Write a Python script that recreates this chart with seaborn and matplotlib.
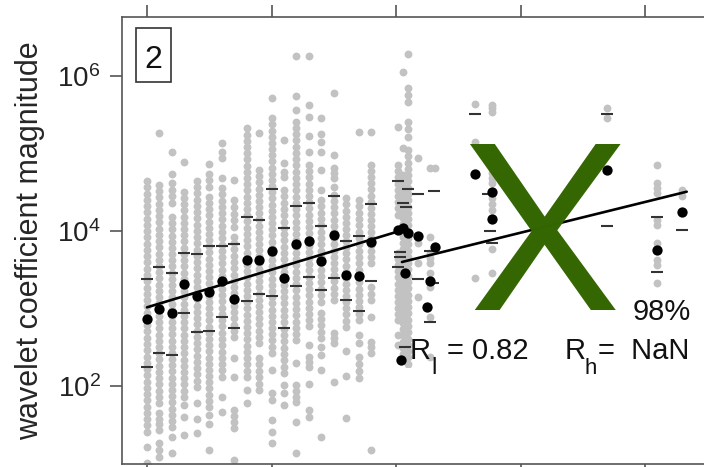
import numpy as np
import pandas as pd
import matplotlib
matplotlib.use("Agg")
import matplotlib.pyplot as plt
from matplotlib.patches import Rectangle
import seaborn as sns

# ---------------- data (values are log10 of wavelet coefficient magnitude) ----------------
# gray columns: x position, dense runs (lo, hi) and single points
gray_x = list(range(19)) + [20.16, 20.56, 20.99, 21.79, 22.73, 23.13, 26.35, 27.69, 36.97, 40.96, 42.95]
gray_runs = [
    [(1.41, 4.645)],
    [(1.78, 4.594), (1.43, 1.652), (1.08, 1.265)],
    [(4.36, 4.62), (1.47, 4.18)],
    [(1.86, 4.507)],
    [(1.99, 4.645)],
    [(4.57, 4.735), (1.73, 4.44)],
    [(4.94, 5.023), (2.12, 4.555)],
    [(4.05, 4.40), (2.63, 3.923), (1.46, 1.69)],
    [(2.12, 5.325)],
    [(2.555, 4.787), (1.95, 2.36)],
    [(2.43, 5.454), (1.82, 1.91)],
    [(4.70, 4.765), (2.17, 4.529), (1.91, 2.013)],
    [(2.59, 5.41), (1.79, 2.013)],
    [(2.77, 4.852), (2.25, 2.378), (1.60, 1.69)],
    [(5.15, 5.252), (3.09, 4.40), (2.62, 2.942), (2.40, 2.507)],
    [(4.68, 4.813), (3.11, 4.465), (2.555, 2.684)],
    [(2.765, 4.422)],
    [(2.85, 4.40), (2.555, 2.658), (2.10, 2.378)],
    [(3.587, 4.852), (3.11, 3.277)],
    [(4.21, 4.852), (2.85, 3.716)],
    [(2.335, 4.723)],
    [(5.668, 5.845), (5.217, 5.41), (2.206, 5.045)],
    [], [], [], [], [], [], [], [],
]
gray_single = [
    [1.21, 1.01],
    [5.261],
    [5.015, 4.732, 1.342, 1.135],
    [4.894, 1.75, 1.60, 1.368],
    [1.78, 1.574, 1.394],
    [4.861, 1.626, 1.51, 1.174],
    [5.139, 4.684, 1.858, 1.665],
    [4.658, 2.361, 2.116, 1.045],
    [1.948, 1.781],
    [5.261],
    [5.72, 2.206, 1.561, 1.41, 1.268],
    [5.174, 4.874, 1.755],
    [6.262, 5.746, 5.561, 2.297, 1.539, 1.139],
    [6.262, 5.626, 5.467, 5.226, 5.023, 2.529, 2.022],
    [5.454, 5.023, 4.787, 4.529, 2.206, 1.346],
    [5.777, 4.981, 4.572, 2.055],
    [2.452, 2.129, 1.587],
    [5.274],
    [5.274, 2.894, 2.571, 2.50, 2.422, 1.174],
    [5.346, 2.658, 2.529],
    [6.045, 5.071],
    [6.284],
    [4.946, 3.84, 3.587, 3.148],
    [4.817, 3.926, 3.716, 3.65, 3.587, 3.458, 3.277, 2.89, 2.374],
    [4.817],
    [5.635, 5.152, 3.397],
    [5.626, 5.587, 5.539, 4.745, 4.684, 4.619, 4.426, 4.348, 4.271, 3.764, 3.462],
    [5.587, 5.458],
    [4.845, 4.619, 4.555, 4.49, 4.142, 4.077, 3.845, 3.626, 3.561, 3.325],
    [4.529, 4.452],
]

# column means (black dots)
mean_x = list(range(19)) + [20.16, 20.56, 20.99, 21.79, 23.13, 20.72, 22.73, 22.47, 20.38,
                            26.35, 27.69, 27.69, 36.97, 40.96, 42.95]
mean_v = [2.861, 2.99, 2.938, 3.316, 3.161, 3.217, 3.359, 3.123, 3.626, 3.626, 3.746, 3.39,
          3.826, 3.871, 3.613, 3.948, 3.426, 3.419, 3.86,
          4.013, 4.035, 3.978, 3.935, 3.797, 3.462, 3.355, 3.016, 2.335,
          4.732, 4.507, 4.151, 4.787, 3.755, 4.249]

# quantile dashes
dash_x = [c for c in range(19) for _ in (0, 1)] + [
    20.16, 20.99, 21.79, 20.56, 20.8, 23.05, 20.32, 20.32, 20.16, 21.79, 22.73, 22.97, 22.73,
    20.72, 26.35, 27.4, 27.4, 27.55, 27.69, 36.97, 36.97, 40.96, 40.96, 42.95]
dash_v = [3.377, 2.249, 3.539, 2.422, 3.454, 2.40, 3.72, 2.938, 3.707, 2.701, 3.806, 2.71,
          3.81, 2.894, 3.828, 2.744, 4.177, 3.101, 4.142, 3.187, 4.538, 3.165, 4.035, 2.744,
          4.323, 3.294, 4.365, 3.403, 4.068, 3.239, 4.455, 3.39, 3.871, 3.11, 3.939, 2.968,
          4.348, 3.355,
          4.645, 4.538, 4.474, 4.365, 4.314, 4.516, 3.725, 3.661, 3.539, 3.377, 3.746, 3.333,
          2.830, 2.507, 5.51, 4.938, 4.474, 4.0, 3.841, 5.506, 4.065, 4.177, 3.475, 4.013]

# regression lines (low and high range)
fit_seg = ["low", "low", "high", "high"]
fit_x = [0.0, 20.08, 20.48, 43.35]
fit_v = [3.015, 3.99, 3.60, 4.507]

ytick_vals = [2, 4, 6]
panel_label = "2"
r_symbol = "R"
r_low_sub, r_low_val = "l", "= 0.82"
r_high_sub, r_high_val = "h", "=  NaN"
pct_text = "98%"
mark_text = "X"
ylabel_text = "wavelet coefficient magnitude"

DOT_STEP = 0.08

# ---------------- build tables ----------------
rows = []
for x, runs, singles in zip(gray_x, gray_runs, gray_single):
    for lo, hi in runs:
        n = int(round((hi - lo) / DOT_STEP)) + 1
        for v in np.linspace(lo, hi, n):
            rows.append((x, 10 ** v))
    for v in singles:
        rows.append((x, 10 ** v))
gray_df = pd.DataFrame(rows, columns=["x", "mag"])
mean_df = pd.DataFrame({"x": mean_x, "mag": 10 ** np.array(mean_v)})
dash_df = pd.DataFrame({"x": dash_x, "mag": 10 ** np.array(dash_v)})
fit_df = pd.DataFrame({"seg": fit_seg, "x": fit_x, "mag": 10 ** np.array(fit_v)})

# ---------------- style ----------------
sns.set_theme(style="ticks")
plt.rcParams["font.family"] = ["Liberation Sans", "DejaVu Sans"]
plt.rcParams["mathtext.fontset"] = "custom"
plt.rcParams["mathtext.rm"] = "Liberation Sans"
plt.rcParams["mathtext.it"] = "Liberation Sans:italic"
plt.rcParams["mathtext.bf"] = "Liberation Sans:bold"

W, H = 704, 467
fig = plt.figure(figsize=(W / 100, H / 100), dpi=100)
ax_l, ax_r, ax_t, ax_b = 122.3, 712.0, 17.3, 464.3
ax = fig.add_axes([ax_l / W, 1 - ax_b / H, (ax_r - ax_l) / W, (ax_b - ax_t) / H])

col0_px, col_step = 147.0, 12.45
ax.set_yscale("log")

sns.scatterplot(data=gray_df, x="x", y="mag", color="#c2c2c2", s=32, linewidth=0,
                ax=ax, zorder=2, legend=False)
sns.lineplot(data=fit_df, x="x", y="mag", units="seg", estimator=None, color="black",
             linewidth=1.9, ax=ax, zorder=3, legend=False)
sns.scatterplot(data=dash_df, x="x", y="mag", marker="_", s=75, color="#333333",
                linewidth=1.5, ax=ax, zorder=3, legend=False)
sns.scatterplot(data=mean_df, x="x", y="mag", color="black", s=55, linewidth=0,
                ax=ax, zorder=4, legend=False)

ax.set_xlim((ax_l - col0_px) / col_step, (ax_r - col0_px) / col_step)
ax.set_ylim(10 ** 0.990, 10 ** 6.757)
ax.set_xticks([0, 10, 20, 30, 40])
ax.set_yticks([10 ** v for v in ytick_vals])
ax.yaxis.set_minor_locator(matplotlib.ticker.NullLocator())
ax.xaxis.set_minor_locator(matplotlib.ticker.NullLocator())
ax.set_xlabel("")
ax.set_ylabel(ylabel_text, fontsize=22)
ax.yaxis.set_label_coords(-0.131, 0.5)

spc = "#555555"
for s in ["left", "top", "bottom"]:
    ax.spines[s].set_visible(True)
    ax.spines[s].set_color(spc)
    ax.spines[s].set_linewidth(1.2)
    ax.spines[s].set_zorder(5)
ax.spines["right"].set_visible(False)
ax.tick_params(axis="x", which="major", top=True, bottom=True, labelbottom=False,
               labeltop=False, direction="out", length=8.6, width=1.2, color=spc)
ax.tick_params(axis="y", which="major", left=True, right=False, direction="out",
               length=8.6, width=1.2, color=spc, labelsize=20, pad=7, labelcolor="#222222")

# white box under the statistics text
ax.add_patch(Rectangle(((395 - ax_l) / (ax_r - ax_l), 0.004), 1.0, (ax_b - 370) / (ax_b - ax_t),
                       transform=ax.transAxes, facecolor="white", edgecolor="none", zorder=4.5))

# panel number box
fig.add_artist(Rectangle((136 / W, 1 - 81.7 / H), 35 / W, 53.7 / H, transform=fig.transFigure,
                         fill=False, edgecolor="#333333", linewidth=1.2))
fig.text(153.5 / W, 1 - 68.3 / H, panel_label, ha="center", va="baseline", fontsize=23,
         color="#111111")

# big green mark: the glyph is point-symmetric, so it is set upside down with its
# baseline on the top edge; its empty descent box then lies above, clear of other text
fig.text(535 / W, 1 - 141.5 / H, mark_text, ha="center", va="baseline", rotation=180,
         rotation_mode="anchor", fontsize=174, color="#336600")
fig.text(633 / W, 1 - 320 / H, pct_text, ha="left", va="baseline", fontsize=21, color="#111111")

tc = "#111111"
base_y, sub_y = 358.6, 373.5
fig.text(410 / W, 1 - base_y / H, r_symbol, ha="left", va="baseline", fontsize=21, color=tc)
fig.text(431 / W, 1 - sub_y / H, r_low_sub, ha="left", va="baseline", fontsize=17, color=tc)
fig.text(447 / W, 1 - base_y / H, r_low_val, ha="left", va="baseline", fontsize=21, color=tc)
fig.text(565 / W, 1 - base_y / H, r_symbol, ha="left", va="baseline", fontsize=21, color=tc)
fig.text(584.5 / W, 1 - sub_y / H, r_high_sub, ha="left", va="baseline", fontsize=16, color=tc)
fig.text(597.5 / W, 1 - base_y / H, r_high_val, ha="left", va="baseline", fontsize=21, color=tc)

fig.savefig("out.png", dpi=100)
